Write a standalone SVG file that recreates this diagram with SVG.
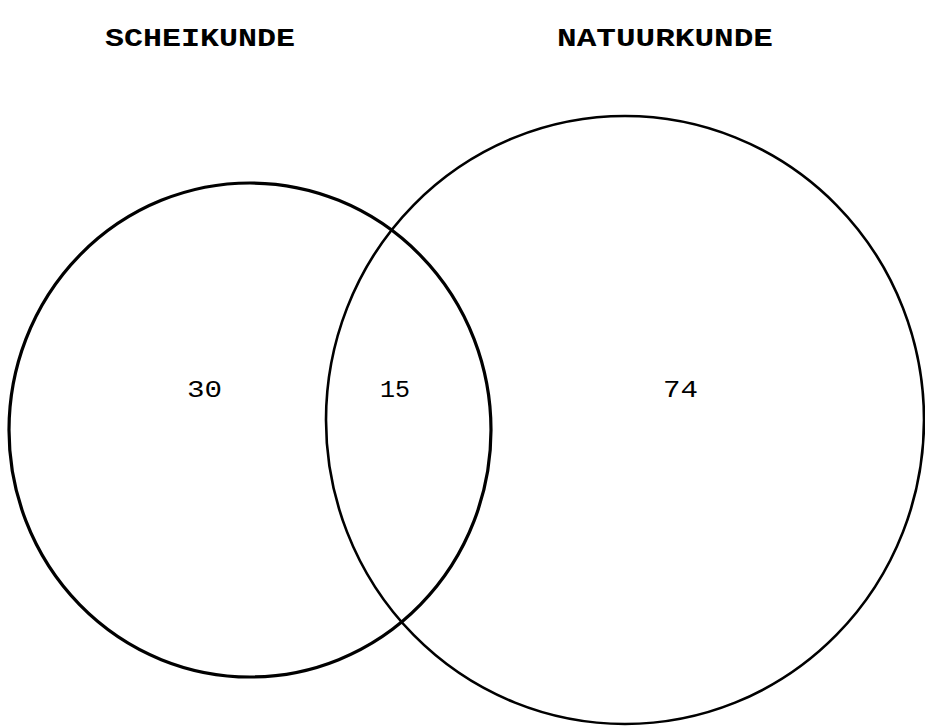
<svg xmlns="http://www.w3.org/2000/svg" width="925" height="727" viewBox="0 0 925 727">
<style>
.ring{fill:none;stroke:#000}
.title{font-family:"Liberation Mono","DejaVu Sans Mono",monospace;font-weight:bold;font-size:26px;fill:#000}
.num{font-family:"Liberation Mono","DejaVu Sans Mono",monospace;font-size:24px;fill:#000}
</style>
<rect width="925" height="727" fill="#fff"/>
<g id="scheikunde">
<ellipse class="ring" cx="250" cy="430" rx="241" ry="247" stroke-width="3.2"/>
<text class="title" x="105" y="46" textLength="190" lengthAdjust="spacingAndGlyphs">SCHEIKUNDE</text>
</g>
<g id="natuurkunde">
<ellipse class="ring" cx="625" cy="420" rx="299" ry="304" stroke-width="2.6"/>
<text class="title" x="557" y="46" textLength="216" lengthAdjust="spacingAndGlyphs">NATUURKUNDE</text>
</g>
<g id="labels">
<text class="num" x="187" y="397" textLength="35" lengthAdjust="spacingAndGlyphs">30</text>
<text class="num" x="380" y="397" textLength="30" lengthAdjust="spacingAndGlyphs">15</text>
<text class="num" x="663" y="397" textLength="35" lengthAdjust="spacingAndGlyphs">74</text>
</g>
</svg>
